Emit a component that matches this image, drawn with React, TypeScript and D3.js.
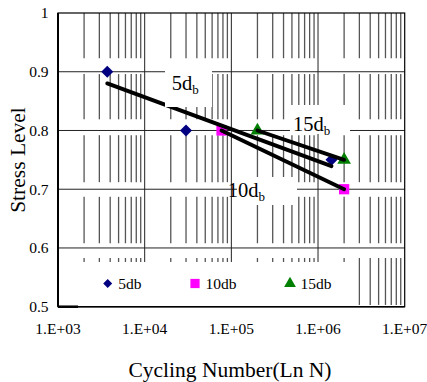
import React from "react";
import * as d3 from "d3";

const xTickValues = [1e3, 1e4, 1e5, 1e6, 1e7];
const xTickLabels = ["1.E+03", "1.E+04", "1.E+05", "1.E+06", "1.E+07"];
const yTickValues = [0.5, 0.6, 0.7, 0.8, 0.9, 1];
const yTickLabels = ["0.5", "0.6", "0.7", "0.8", "0.9", "1"];

const seriesNames = ["5db", "10db", "15db"];
const n5 = [3700, 30000, 1430000];
const s5 = [0.9, 0.8, 0.75];
const n10 = [77000, 2000000];
const s10 = [0.8, 0.7];
const n15 = [200000, 2000000];
const s15 = [0.8, 0.75];

// minor gridline segments (value ranges) per band, as drawn in the source
const minorBands = [
  [1.0, 0.923],
  [0.896, 0.819],
  [0.792, 0.712],
  [0.687, 0.608],
  [0.583, 0.503],
];

const W = 427;
const H = 382;
const L = 58, R = 404.7, T = 13, B = 306.7;

const x = d3.scaleLog().domain([1e3, 1e7]).range([L, R]);
const y = d3.scaleLinear().domain([0.5, 1]).range([B, T]);

const colors = ["#000080", "#FF00FF", "#008000"];
const FONT = "'Liberation Serif', 'Times New Roman', serif";

function fit(ns: number[], ss: number[]) {
  const lx = ns.map((v) => Math.log10(v));
  const mx = d3.mean(lx)!;
  const my = d3.mean(ss)!;
  let sxx = 0, sxy = 0;
  lx.forEach((v, i) => {
    sxx += (v - mx) * (v - mx);
    sxy += (v - mx) * (ss[i] - my);
  });
  const b = sxy / sxx;
  const a = my - b * mx;
  const x0 = d3.min(ns)!, x1 = d3.max(ns)!;
  return [
    [x0, a + b * Math.log10(x0)],
    [x1, a + b * Math.log10(x1)],
  ];
}

const diamond = (size: number) => d3.symbol().type(d3.symbolSquare).size(size)()!;
const square = (size: number) => d3.symbol().type(d3.symbolSquare).size(size)()!;
const triangle = (size: number) => d3.symbol().type(d3.symbolTriangle).size(size)()!;

const ts = { fontFamily: FONT };

export default function App() {
  const minorXs: number[] = [];
  for (let d = 0; d < 4; d++) {
    for (let k = 2; k <= 9; k++) minorXs.push(k * xTickValues[d]);
  }
  const series = [
    { ns: n5, ss: s5 },
    { ns: n10, ss: s10 },
    { ns: n15, ss: s15 },
  ];
  const line = d3
    .line<number[]>()
    .x((d) => x(d[0]))
    .y((d) => y(d[1]));

  const markerPath = (i: number, legend: boolean) => {
    if (i === 0) return diamond(legend ? 40 : 72);
    if (i === 1) return square(legend ? 85 : 105);
    return triangle(legend ? 60 : 80);
  };
  const markerRot = (i: number) => (i === 0 ? 45 : 0);

  const labels = [
    { t: "5d", N: 20500, S: 0.869, bx: [165, 212], by: [62, 107] },
    { t: "15d", N: 515000, S: 0.7995, bx: [290, 350], by: [105, 134] },
    { t: "10d", N: 91000, S: 0.6865, bx: [237, 297], by: [177, 205] },
  ];

  const legendX = [107.7, 195, 290];

  return (
    <svg
      width={W}
      height={H}
      style={{ position: "absolute", left: 0, top: 0, background: "#fff" }}
    >
      <rect x={0} y={0} width={W} height={H} fill="#fff" />
      {minorXs.map((v, i) =>
        minorBands.map((b, j) => (
          <line
            key={`m${i}-${j}`}
            x1={x(v)}
            x2={x(v)}
            y1={y(b[0])}
            y2={y(b[1])}
            stroke="#555"
            strokeWidth={1.3}
          />
        ))
      )}
      {xTickValues.slice(1, 4).map((v) => (
        <line key={`vx${v}`} x1={x(v)} x2={x(v)} y1={T} y2={B} stroke="#222" strokeWidth={1} />
      ))}
      {yTickValues.slice(1, 5).map((v) => (
        <line key={`hy${v}`} x1={L} x2={R} y1={y(v)} y2={y(v)} stroke="#222" strokeWidth={1} />
      ))}
      {series.map((s, i) =>
        s.ns.map((n, j) => (
          <path
            key={`p${i}-${j}`}
            d={markerPath(i, false)}
            transform={`translate(${x(n)},${y(s.ss[j])}) rotate(${markerRot(i)})`}
            fill={colors[i]}
          />
        ))
      )}
      {series.map((s, i) => (
        <path
          key={`t${i}`}
          d={line(fit(s.ns, s.ss))!}
          stroke="#000"
          strokeWidth={3.9}
          fill="none"
          strokeLinecap="round"
        />
      ))}
      {labels.map((l, i) => (
        <g key={`l${i}`}>
          <rect x={l.bx[0]} y={l.by[0]} width={l.bx[1] - l.bx[0]} height={l.by[1] - l.by[0]} fill="#fff" />
          <text x={x(l.N)} y={y(l.S)} fontSize={20.5} fill="#000" style={ts}>
            {l.t}
            <tspan fontSize={13} dy={4}>b</tspan>
          </text>
        </g>
      ))}
      <rect x={L + 1} y={262} width={357 - L - 1} height={B - 262} fill="#fff" />
      {seriesNames.map((nm, i) => (
        <g key={`lg${i}`}>
          <path
            d={markerPath(i, true)}
            transform={`translate(${legendX[i]},283.5) rotate(${markerRot(i)})`}
            fill={colors[i]}
          />
          <text x={legendX[i] + 10.6} y={288.5} fontSize={15.5} fill="#000" style={ts}>
            {nm}
          </text>
        </g>
      ))}
      <rect x={L} y={T} width={R - L} height={B - T} fill="none" stroke="#000" strokeWidth={1.2} />
      <line x1={L} x2={L} y1={T} y2={B} stroke="#000" strokeWidth={2} />
      <line x1={L} x2={R} y1={B} y2={B} stroke="#000" strokeWidth={1.5} />
      <line x1={L} x2={L + 20} y1={B} y2={B} stroke="#000" strokeWidth={2.5} />
      {yTickValues.map((v, i) => (
        <text key={`yl${v}`} x={48.5} y={y(v)} dy="0.35em" textAnchor="end" fontSize={15.5} fill="#000" style={ts}>
          {yTickLabels[i]}
        </text>
      ))}
      {xTickValues.map((v, i) => (
        <text key={`xl${v}`} x={x(v)} y={334} textAnchor="middle" fontSize={15.5} fill="#000" style={ts}>
          {xTickLabels[i]}
        </text>
      ))}
      <text x={230} y={377} textAnchor="middle" fontSize={21.5} fill="#000" style={ts}>
        Cycling Number(Ln N)
      </text>
      <text
        transform="translate(25,160) rotate(-90)"
        textAnchor="middle"
        fontSize={21.5}
        fill="#000"
        style={ts}
      >
        Stress Level
      </text>
    </svg>
  );
}
